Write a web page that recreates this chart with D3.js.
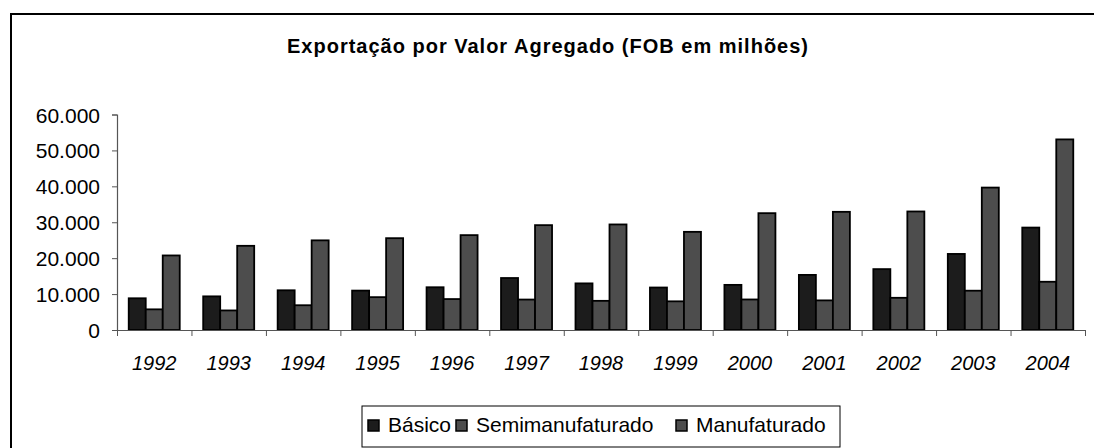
<!DOCTYPE html>
<html lang="pt-br">
<head>
  <meta charset="utf-8" />
  <title>Exportação por Valor Agregado</title>
  <script src="https://cdn.jsdelivr.net/npm/d3@7"></script>
  <style>
    body { margin: 0; background: #fff; }
    svg text { font-family: "Liberation Sans", Arial, sans-serif; fill: #000; }
  </style>
</head>
<body>
<svg id="chart" width="1094" height="448"></svg>
<script>
// dados (FOB, US$ milhões)
var anos = ["1992", "1993", "1994", "1995", "1996", "1997", "1998", "1999", "2000", "2001", "2002", "2003", "2004"];
var basico = [8830, 9366, 11058, 10969, 11900, 14474, 12977, 11828, 12562, 15342, 16952, 21179, 28518];
var semimanufaturado = [5750, 5445, 6893, 9146, 8613, 8478, 8120, 7982, 8499, 8244, 8964, 10943, 13431];
var manufaturado = [20754, 23437, 24959, 25565, 26413, 29194, 29387, 27329, 32528, 32901, 33001, 39654, 53066];
var series = ["Básico", "Semimanufaturado", "Manufaturado"];
var yTicks = [0, 10000, 20000, 30000, 40000, 50000, 60000];

var cores = ["#1c1c1c", "#4d4d4d", "#4d4d4d"];
var valores = [basico, semimanufaturado, manufaturado];

var svg = d3.select("#chart");

// moldura do gráfico
svg.append("rect")
    .attr("x", 11).attr("y", 14)
    .attr("width", 1100).attr("height", 460)
    .attr("fill", "#fff")
    .attr("stroke", "#000")
    .attr("stroke-width", 2);

svg.append("text")
    .attr("x", 548).attr("y", 53)
    .attr("text-anchor", "middle")
    .style("font-size", "20px")
    .style("font-weight", "bold")
    .style("letter-spacing", "1px")
    .text("Exportação por Valor Agregado (FOB em milhões)");

var pLeft = 117, pRight = 1085, pTop = 114.5, pBottom = 330;

var x0 = d3.scaleBand().domain(anos).range([pLeft, pRight]).paddingInner(0.315).paddingOuter(0.1575);
var x1 = d3.scaleBand().domain(series).range([0, x0.bandwidth()]);
var y = d3.scaleLinear().domain([0, 60000]).range([pBottom, pTop]);

var locale = d3.formatLocale({ decimal: ",", thousands: ".", grouping: [3], currency: ["", ""] });
var fmt = locale.format(",d");

// eixo Y
var yAxis = svg.append("g")
    .attr("transform", "translate(" + pLeft + ",0)")
    .call(d3.axisLeft(y).tickValues(yTicks).tickSize(5).tickPadding(12).tickFormat(fmt));
yAxis.select(".domain").attr("stroke", "#555").attr("stroke-width", 1.2);
yAxis.selectAll(".tick line").attr("stroke", "#555");
yAxis.selectAll("text").style("font-size", "21px").attr("dy", "0.36em");

// barras
var grupos = svg.append("g").selectAll("g")
    .data(anos)
    .join("g")
    .attr("transform", function(d) { return "translate(" + x0(d) + ",0)"; });

grupos.selectAll("rect")
    .data(function(d, i) {
        return series.map(function(s, j) { return { s: s, v: valores[j][i], j: j }; });
    })
    .join("rect")
    .attr("x", function(d) { return x1(d.s); })
    .attr("y", function(d) { return y(d.v); })
    .attr("width", x1.bandwidth())
    .attr("height", function(d) { return y(0) - y(d.v); })
    .attr("fill", function(d) { return cores[d.j]; })
    .attr("stroke", "#000")
    .attr("stroke-width", 1.8);

// eixo X com marcas entre categorias
var xTick = d3.scaleLinear().domain([0, anos.length]).range([pLeft, pRight]);
var xAxis = svg.append("g")
    .attr("transform", "translate(0," + pBottom + ")")
    .call(d3.axisBottom(xTick).tickValues(d3.range(anos.length + 1)).tickSize(6).tickSizeOuter(0).tickFormat(""));
xAxis.select(".domain").attr("stroke", "#555").attr("stroke-width", 1.2);
xAxis.selectAll(".tick line").attr("stroke", "#555");

svg.append("g").selectAll("text")
    .data(anos)
    .join("text")
    .attr("x", function(d) { return x0(d) + x0.bandwidth() / 2; })
    .attr("y", 370)
    .attr("text-anchor", "middle")
    .style("font-size", "20px")
    .style("font-style", "italic")
    .text(function(d) { return d; });

// legenda (centrada sob a área de plotagem)
var leg = svg.append("g");
leg.append("rect")
    .attr("x", 362).attr("y", 406)
    .attr("width", 478).attr("height", 41)
    .attr("fill", "#fff")
    .attr("stroke", "#000")
    .attr("stroke-width", 1);

var legX = [368, 456, 676];
var itens = leg.selectAll("g.item")
    .data(series)
    .join("g")
    .attr("class", "item")
    .attr("transform", function(d, i) { return "translate(" + legX[i] + ",420)"; });
itens.append("rect")
    .attr("width", 11).attr("height", 11)
    .attr("fill", function(d, i) { return cores[i]; })
    .attr("stroke", "#000")
    .attr("stroke-width", 1.5);
itens.append("text")
    .attr("x", 20).attr("y", 12)
    .style("font-size", "21px")
    .text(function(d) { return d; });
</script>
</body>
</html>
